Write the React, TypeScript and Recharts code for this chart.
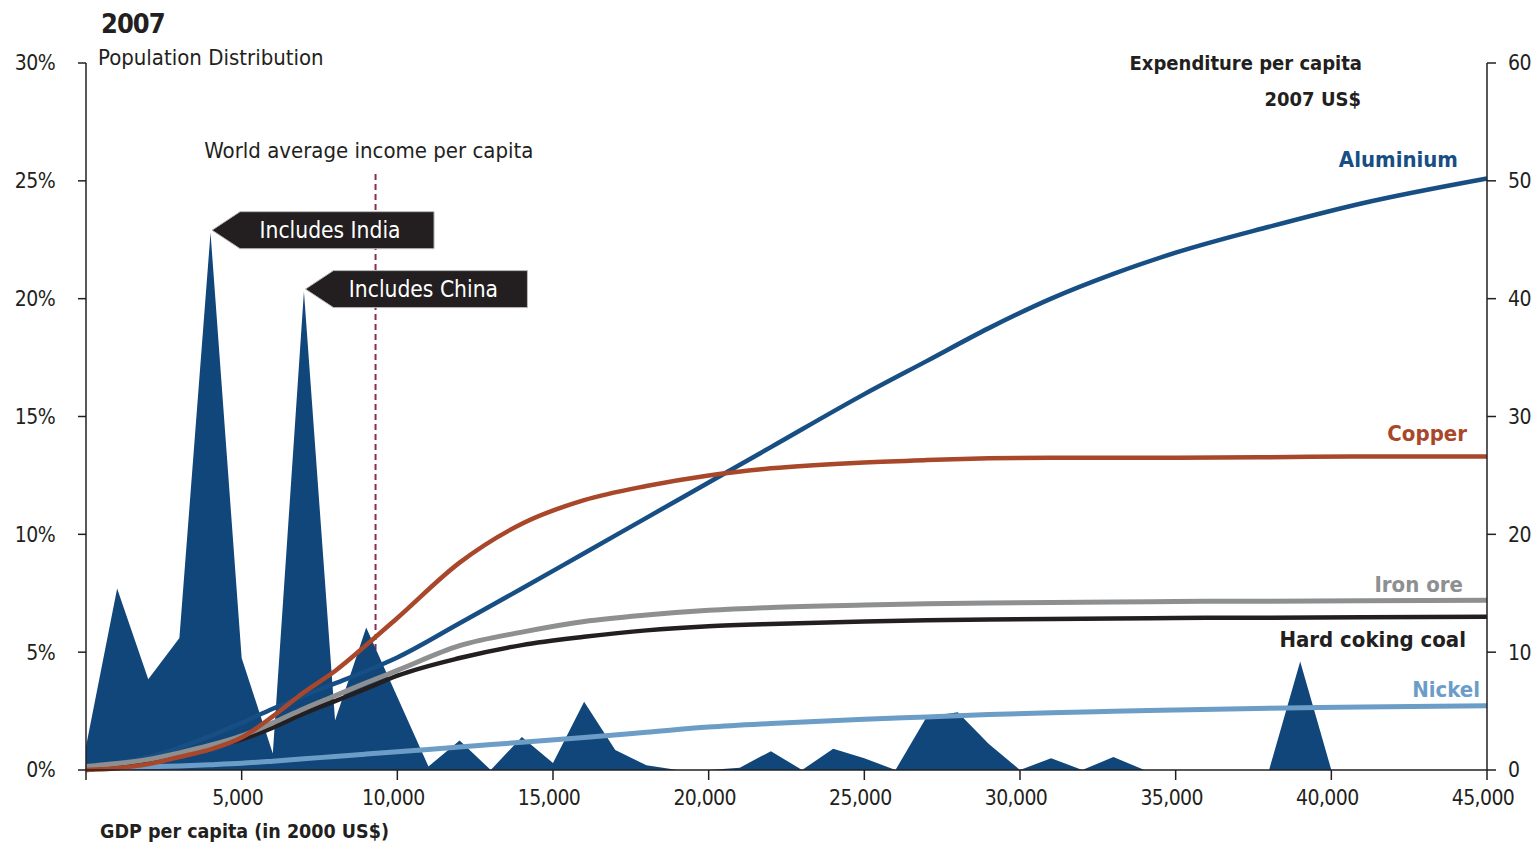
import React from 'react';
import { ComposedChart, Area, Line, XAxis, YAxis, ReferenceLine, ReferenceDot } from 'recharts';

const FONT = '"DejaVu Sans Condensed", "Liberation Sans Narrow", "DejaVu Sans", sans-serif';
const INK = '#231f20';

// GDP per capita (2000 US$), one row per 1,000
const gdp = [
  0, 1000, 2000, 3000, 4000, 5000, 6000, 7000, 8000, 9000,
  10000, 11000, 12000, 13000, 14000, 15000, 16000, 17000, 18000, 19000,
  20000, 21000, 22000, 23000, 24000, 25000, 26000, 27000, 28000, 29000,
  30000, 31000, 32000, 33000, 34000, 35000, 36000, 37000, 38000, 39000,
  40000, 41000, 42000, 43000, 44000, 45000,
];

// share of world population, %
const popShare = [
  1.0, 7.7, 3.85, 5.6, 22.8, 4.75, 0.7, 20.3, 2.1, 6.05,
  3.1, 0.15, 1.25, 0, 1.4, 0.3, 2.9, 0.85, 0.2, 0,
  0, 0.1, 0.8, 0, 0.9, 0.5, 0, 2.25, 2.45, 1.1,
  0, 0.5, 0, 0.55, 0, 0, 0, 0, 0, 4.6,
  0, 0, 0, 0, 0, 0,
];

// expenditure curves (2007 US$ per capita) are read at these GDP points only
const curveGdp = [0, 1000, 2000, 3000, 4000, 5000, 6000, 7000, 8000, 9000, 10000, 12000, 14000, 16000, 18000, 20000, 22000, 25000, 27000, 29000, 31000, 33000, 35000, 38000, 41000, 45000];
const aluminium = [0.2, 0.55, 1.1, 1.9, 2.9, 4.0, 5.2, 6.3, 7.35, 8.4, 9.55, 12.45, 15.4, 18.4, 21.4, 24.4, 27.4, 31.9, 34.7, 37.5, 40.0, 42.1, 43.9, 46.1, 48.1, 50.2];
const copper = [0, 0.15, 0.5, 1.1, 1.75, 2.75, 4.55, 6.6, 8.4, 10.6, 12.9, 17.6, 20.9, 22.9, 24.1, 25.0, 25.6, 26.1, 26.3, 26.45, 26.5, 26.5, 26.5, 26.55, 26.6, 26.6];
const ironOre = [0.3, 0.55, 0.9, 1.45, 2.1, 2.9, 4.0, 5.2, 6.3, 7.4, 8.45, 10.55, 11.7, 12.6, 13.15, 13.55, 13.8, 14.0, 14.1, 14.18, 14.22, 14.26, 14.3, 14.33, 14.36, 14.4];
const coal = [0, 0.35, 0.75, 1.3, 1.95, 2.6, 3.6, 4.8, 5.85, 6.9, 8.0, 9.5, 10.6, 11.3, 11.85, 12.2, 12.4, 12.6, 12.7, 12.78, 12.82, 12.86, 12.9, 12.93, 12.96, 13.0];
const nickel = [0.15, 0.2, 0.28, 0.35, 0.45, 0.57, 0.75, 0.95, 1.15, 1.35, 1.55, 1.95, 2.35, 2.75, 3.2, 3.65, 3.95, 4.3, 4.5, 4.7, 4.85, 4.98, 5.1, 5.25, 5.34, 5.45];

const xTicks = [0, 5000, 10000, 15000, 20000, 25000, 30000, 35000, 40000, 45000];
const popTicks = [0, 5, 10, 15, 20, 25, 30];
const expTicks = [0, 10, 20, 30, 40, 50, 60];
const worldAverage = 9300;
const worldAverageTop = 25.3;

const last = curveGdp.length - 1;

const rows = gdp.map((g, i) => {
  const j = curveGdp.indexOf(g);
  const pick = (arr: number[]) => (j >= 0 ? arr[j] : null);
  return {
    gdp: g,
    pop: popShare[i],
    aluminium: pick(aluminium),
    copper: pick(copper),
    ironOre: pick(ironOre),
    coal: pick(coal),
    nickel: pick(nickel),
  };
});

const callout = (text: string) => (props: any) => {
  const tx = props.cx + 1.5;
  const ty = props.cy - 2.5;
  const bx = tx + 28;
  const bw = 194;
  const h = 37;
  const pts = `${tx},${ty} ${bx},${ty - h / 2} ${bx + bw},${ty - h / 2} ${bx + bw},${ty + h / 2} ${bx},${ty + h / 2}`;
  return (
    <g>
      <polygon points={pts} fill={INK} stroke="#b9b9b9" strokeWidth={1} />
      <text x={bx + 90} y={ty + 7.5} textAnchor="middle" fill="#fff" fontSize={22.6} fontFamily={FONT}>
        {text}
      </text>
    </g>
  );
};

const endLabel = (text: string, color: string, dx: number, dy: number) => (props: any) => (
  <text x={props.cx + dx} y={props.cy + dy} textAnchor="end" fill={color} fontSize={22} fontWeight="bold" fontFamily={FONT}>
    {text}
  </text>
);

const tickStyle = { fill: INK, fontSize: 21, fontFamily: FONT, letterSpacing: -0.6 };
const axisLine = { stroke: INK, strokeWidth: 1.5 };

export default function App() {
  return (
    <div style={{ position: 'absolute', left: 0, top: 0, width: 1536, height: 846, background: '#fff', fontFamily: FONT }}>
      <ComposedChart width={1536} height={846} data={rows} margin={{ top: 63, right: 0, bottom: 0, left: 0 }}>
        <XAxis
          dataKey="gdp"
          type="number"
          domain={[0, 45000]}
          ticks={xTicks}
          tickFormatter={(v: number) => (v === 0 ? '' : v.toLocaleString('en-US'))}
          height={76}
          tickSize={10}
          tickMargin={10}
          tick={{ ...tickStyle, dx: -4 }}
          axisLine={axisLine}
          tickLine={axisLine}
          interval={0}
        />
        <YAxis
          yAxisId="pop"
          domain={[0, 30]}
          ticks={popTicks}
          tickFormatter={(v: number) => `${v}%`}
          width={86}
          tickSize={8}
          tickMargin={23}
          tick={tickStyle}
          axisLine={axisLine}
          tickLine={axisLine}
          interval={0}
        />
        <YAxis
          yAxisId="exp"
          orientation="right"
          domain={[0, 60]}
          ticks={expTicks}
          width={49}
          tickSize={9}
          tickMargin={12}
          tick={{ ...tickStyle, textAnchor: 'start' }}
          axisLine={axisLine}
          tickLine={axisLine}
          interval={0}
        />
        <ReferenceLine
          yAxisId="pop"
          segment={[{ x: worldAverage, y: 0 }, { x: worldAverage, y: worldAverageTop }]}
          stroke="#8b2d4f"
          strokeWidth={2}
          strokeDasharray="6 4"
          zIndex={50}
          label={(p: any) => (
            <text x={p.viewBox.x - 6.7} y={p.viewBox.y - 16} textAnchor="middle" fill={INK} fontSize={22} fontFamily={FONT}>
              World average income per capita
            </text>
          )}
        />
        <Area
          yAxisId="pop"
          dataKey="pop"
          type="linear"
          stroke="none"
          fill="#11467a"
          fillOpacity={1}
          isAnimationActive={false}
        />
        <Line yAxisId="exp" dataKey="nickel" type="monotone" stroke="#6c9dc6" strokeWidth={5} dot={false} connectNulls isAnimationActive={false} />
        <Line yAxisId="exp" dataKey="aluminium" type="monotone" stroke="#174e84" strokeWidth={4.5} dot={false} connectNulls isAnimationActive={false} />
        <Line yAxisId="exp" dataKey="coal" type="monotone" stroke={INK} strokeWidth={4.5} dot={false} connectNulls isAnimationActive={false} />
        <Line yAxisId="exp" dataKey="ironOre" type="monotone" stroke="#8d8f91" strokeWidth={5} dot={false} connectNulls isAnimationActive={false} />
        <Line yAxisId="exp" dataKey="copper" type="monotone" stroke="#a9472a" strokeWidth={4.5} dot={false} connectNulls isAnimationActive={false} />

        <ReferenceDot yAxisId="pop" x={gdp[4]} y={popShare[4]} zIndex={2500} shape={callout('Includes India')} />
        <ReferenceDot yAxisId="pop" x={gdp[7]} y={popShare[7]} zIndex={2500} shape={callout('Includes China')} />

        <ReferenceDot yAxisId="exp" x={curveGdp[last]} y={aluminium[last]} zIndex={2500} shape={endLabel('Aluminium', '#174e84', -29, -11)} />
        <ReferenceDot yAxisId="exp" x={curveGdp[last]} y={copper[last]} zIndex={2500} shape={endLabel('Copper', '#a9472a', -20, -15.5)} />
        <ReferenceDot yAxisId="exp" x={curveGdp[last]} y={ironOre[last]} zIndex={2500} shape={endLabel('Iron ore', '#8d8f91', -24, -8)} />
        <ReferenceDot yAxisId="exp" x={curveGdp[last]} y={coal[last]} zIndex={2500} shape={endLabel('Hard coking coal', INK, -21, 30)} />
        <ReferenceDot yAxisId="exp" x={curveGdp[last]} y={nickel[last]} zIndex={2500} shape={endLabel('Nickel', '#6c9dc6', -7, -9)} />
      </ComposedChart>

      <svg width={1536} height={846} style={{ position: 'absolute', left: 0, top: 0, pointerEvents: 'none' }} fontFamily={FONT}>
        <text x={101} y={33} fontSize={27} fontWeight="bold" fill={INK} letterSpacing={-1}>2007</text>
        <text x={98} y={65} fontSize={22} fill={INK}>Population Distribution</text>
        <text x={1362} y={70} fontSize={20} fontWeight="bold" fill={INK} textAnchor="end">Expenditure per capita</text>
        <text x={1361} y={106} fontSize={20} fontWeight="bold" fill={INK} textAnchor="end">2007 US$</text>
        <text x={100} y={838} fontSize={19.5} fontWeight="bold" fill={INK}>GDP per capita (in 2000 US$)</text>
      </svg>
    </div>
  );
}
